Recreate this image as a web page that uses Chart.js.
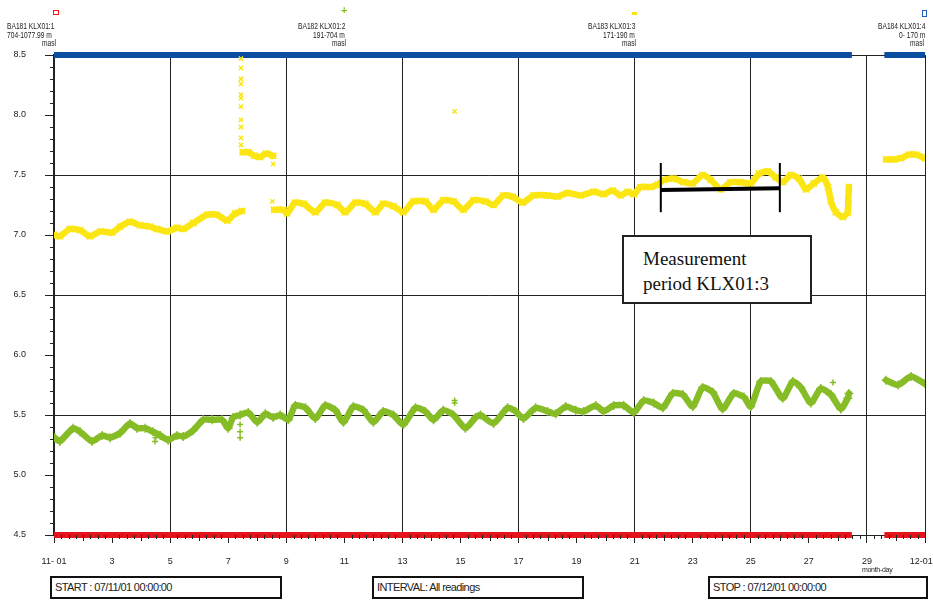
<!DOCTYPE html>
<html>
<head>
<meta charset="utf-8">
<script src="https://cdn.jsdelivr.net/npm/chart.js@4.4.1/dist/chart.umd.min.js"></script>
<style>
  body { margin: 0; background: #fff; }
  #wrap { position: relative; width: 933px; height: 603px; font-family: 'Liberation Sans', Arial, sans-serif; color: #222; overflow: hidden; }
  #chart { position: absolute; left: 0; top: 0; }
  .hd { position: absolute; font-size: 9px; line-height: 9px; white-space: nowrap; transform: scaleX(0.74); transform-origin: left top; color: #1a1a1a; }
  .mk { position: absolute; }
  .box { position: absolute; top: 576px; height: 23px; border: 2px solid #111; box-sizing: border-box; font-size: 11px; line-height: 19px; padding-left: 3px; letter-spacing: -0.6px; white-space: nowrap; background: #fff; }
  .note { position: absolute; left: 622px; top: 235px; width: 190px; height: 69px; border: 2px solid #222; box-sizing: border-box; background: #fff;
          font-family: 'Liberation Serif', 'Times New Roman', serif; font-size: 19px; line-height: 25px; padding: 9px 0 0 19px; color: #111; }
  .md { position: absolute; left: 862px; top: 566px; font-size: 7px; letter-spacing: -0.3px; }
</style>
</head>
<body>
<div id="wrap">
  <canvas id="chart" width="933" height="603"></canvas>

  <!-- series headers -->
  <div class="mk" style="left:53px;top:10px;width:4px;height:3px;border:1.5px solid #ff1010;border-top-color:#ff1010"></div>
  <div class="hd" style="left:7px;top:22px">BA181 KLX01:1</div>
  <div class="hd" style="left:7px;top:31px">704-1077.99 m</div>
  <div class="hd" style="left:42px;top:39px">masl</div>

  <div class="mk" style="left:341px;top:5px;font-size:11px;line-height:11px;color:#86bc25;font-weight:bold">+</div>
  <div class="hd" style="left:298px;top:22px">BA182 KLX01:2</div>
  <div class="hd" style="left:313px;top:31px">191-704 m</div>
  <div class="hd" style="left:332px;top:39px">masl</div>

  <div class="mk" style="left:632px;top:12px;width:5px;height:3px;background:#fbe614"></div>
  <div class="hd" style="left:588px;top:22px">BA183 KLX01:3</div>
  <div class="hd" style="left:603px;top:31px">171-190 m</div>
  <div class="hd" style="left:622px;top:39px">masl</div>

  <div class="mk" style="left:922px;top:10px;width:3px;height:5px;border-style:solid;border-width:1px;border-color:#1f5fb8"></div>
  <div class="hd" style="left:878px;top:22px">BA184 KLX01:4</div>
  <div class="hd" style="left:899px;top:31px">0- 170 m</div>
  <div class="hd" style="left:910px;top:39px">masl</div>

  <div class="note">Measurement<br>period KLX01:3</div>
  <div class="md">month-day</div>

  <div class="box" style="left:50px;width:232px">START : 07/11/01 00:00:00</div>
  <div class="box" style="left:372px;width:212px">INTERVAL: All readings</div>
  <div class="box" style="left:708px;width:220px">STOP : 07/12/01 00:00:00</div>
</div>

<script>
// ── data (x = day of November 2007, 31 = 12-01; y = level, m a.s.l.) ──
const dayTicks = [1, 3, 5, 7, 9, 11, 13, 15, 17, 19, 21, 23, 25, 27, 29, 31];
const dayTickLabels = ['11- 01', '3', '5', '7', '9', '11', '13', '15', '17', '19', '21', '23', '25', '27', '29', '12-01   '];
const gridDays = [1, 5, 9, 13, 17, 21, 25, 29, 31];

// BA181 KLX01:1 and BA184 KLX01:4 sit off the scale (bottom / top edge)
const edgeDays   = [1, 28.48, null, 29.6, 31];
const redLevels  = [4.5, 4.5, null, 4.5, 4.5];
const blueLevels = [8.5, 8.5, null, 8.5, 8.5];

// BA183 KLX01:3 (171-190 m)
const yellowDays = [
  1.0, 1.2, 1.55, 1.9, 2.24, 2.6, 3.0, 3.28, 3.62, 3.97, 4.3, 4.55, 4.9, 5.24, 5.45, 5.8, 6.28, 6.6, 6.97, 7.24, 7.48,
  7.49,
  7.5, 7.7, 7.9, 8.1, 8.3, 8.55,
  8.56,
  8.58, 8.9, 9.03, 9.3, 9.6, 10.0, 10.34, 10.76, 11.03, 11.38, 11.72, 12.07, 12.34, 12.69, 13.03, 13.38, 13.8,
  14.07, 14.41, 14.76, 15.1, 15.45, 15.86, 16.14, 16.48, 16.79, 17.14, 17.52, 18.0, 18.34, 18.69, 19.14, 19.59,
  19.93, 20.24, 20.52, 20.76, 20.97, 21.2, 21.55, 21.8, 22.0, 22.34, 22.69, 23.0, 23.34, 23.62, 23.97, 24.3,
  24.66, 25.0, 25.28, 25.59, 25.86, 26.1, 26.38, 26.66, 26.9, 27.17, 27.48, 27.66, 27.76, 27.93, 28.17, 28.34,
  28.36, 28.38,
  29.0,
  29.66, 29.93, 30.17, 30.45, 30.69, 31.0
];
const yellowLevels = [
  7.0, 6.99, 7.05, 7.04, 6.99, 7.03, 7.02, 7.07, 7.11, 7.08, 7.07, 7.05, 7.03, 7.06, 7.05, 7.1, 7.17, 7.17, 7.12, 7.18, 7.2,
  null,
  7.69, 7.69, 7.66, 7.65, 7.68, 7.66,
  null,
  7.21, 7.21, 7.18, 7.27, 7.26, 7.19, 7.27, 7.25, 7.19, 7.27, 7.26, 7.19, 7.26, 7.24, 7.19, 7.28, 7.28,
  7.21, 7.29, 7.28, 7.21, 7.29, 7.28, 7.25, 7.33, 7.32, 7.27, 7.33, 7.33, 7.32, 7.35, 7.33, 7.36,
  7.34, 7.37, 7.33, 7.36, 7.34, 7.4, 7.4, 7.42, 7.46, 7.47, 7.44, 7.43, 7.5, 7.46, 7.38, 7.44,
  7.44, 7.43, 7.51, 7.53, 7.48, 7.44, 7.5, 7.47, 7.38, 7.43, 7.48, 7.4, 7.28, 7.19, 7.15, 7.19,
  7.3, 7.4,
  null,
  7.63, 7.63, 7.64, 7.67, 7.67, 7.64
];
const yellowSpikeDays   = [7.44, 7.44, 7.44, 7.44, 7.44, 7.44, 7.44, 7.44, 7.44, 7.44, 7.44, 14.8, 8.55, 8.52];
const yellowSpikeLevels = [8.47, 8.39, 8.3, 8.26, 8.17, 8.14, 8.07, 7.96, 7.9, 7.81, 7.75, 8.03, 7.59, 7.28];

// BA182 KLX01:2 (191-704 m)
const greenDays = [
  1.03, 1.2, 1.66, 1.9, 2.31, 2.66, 2.93, 3.28, 3.62, 3.86, 4.14, 4.41, 4.66, 4.93, 5.24, 5.45, 5.79, 6.14, 6.45,
  6.79, 7.0, 7.17, 7.41, 7.69, 8.0, 8.28, 8.55, 8.79, 9.07, 9.31, 9.66, 10.0, 10.34, 10.69, 10.97, 11.31, 11.66,
  12.0, 12.34, 12.69, 13.03, 13.45, 13.79, 14.07, 14.41, 14.76, 15.17, 15.52, 15.69, 16.14, 16.62, 16.9, 17.17,
  17.59, 18.0, 18.28, 18.62, 18.97, 19.24, 19.66, 19.93, 20.28, 20.62, 20.97, 21.31, 21.66, 21.97, 22.31, 22.66,
  23.0, 23.34, 23.69, 24.03, 24.41, 24.76, 25.0, 25.34, 25.69, 26.1, 26.45, 26.72, 27.07, 27.41, 27.76, 28.1,
  28.34, 28.38,
  29.0,
  29.66, 30.07, 30.52, 31.0
];
const greenLevels = [
  5.31, 5.28, 5.39, 5.36, 5.28, 5.33, 5.31, 5.35, 5.43, 5.39, 5.39, 5.36, 5.33, 5.29, 5.33, 5.32, 5.37, 5.46, 5.46,
  5.46, 5.39, 5.48, 5.5, 5.52, 5.44, 5.51, 5.48, 5.5, 5.46, 5.58, 5.56, 5.47, 5.58, 5.54, 5.44, 5.57, 5.54,
  5.44, 5.53, 5.5, 5.42, 5.56, 5.53, 5.46, 5.54, 5.5, 5.39, 5.48, 5.5, 5.43, 5.56, 5.53, 5.47,
  5.56, 5.53, 5.51, 5.57, 5.54, 5.53, 5.58, 5.53, 5.58, 5.58, 5.52, 5.62, 5.6, 5.56, 5.68, 5.67,
  5.57, 5.73, 5.69, 5.55, 5.68, 5.65, 5.57, 5.78, 5.78, 5.64, 5.78, 5.73, 5.6, 5.72, 5.67, 5.55,
  5.64, 5.68,
  null,
  5.79, 5.75, 5.82, 5.76
];
const greenOddDays   = [4.48, 4.5, 7.41, 7.41, 7.41, 14.8, 14.8, 27.83];
const greenOddLevels = [5.28, 5.31, 5.42, 5.36, 5.31, 5.62, 5.6, 5.77];

// measurement period KLX01:3
const periodDays   = [21.9, 26.0];
const periodLevels = [7.375, 7.39];
const whiskerLevels = [7.19, 7.6];

const YELLOW = '#fbe614';
const GREEN  = '#86bc25';
const BLUE   = '#0b4ea2';
const RED    = '#e3141b';
const INK    = '#222222';

function pts(xs, ys) {
  return xs.map(function(x, i) { return { x: x, y: ys[i] }; });
}

const minorTicks = {
  id: 'minorTicks',
  afterDraw: function(chart) {
    const ctx = chart.ctx, xs = chart.scales.x, ys = chart.scales.y;
    ctx.save();
    ctx.strokeStyle = INK;
    ctx.lineWidth = 1;
    ctx.beginPath();
    for (let t = 45; t <= 85; t++) {
      if (t % 5 === 0) continue;
      const py = Math.round(ys.getPixelForValue(t / 10)) + 0.5;
      ctx.moveTo(xs.left - 4, py);
      ctx.lineTo(xs.left, py);
    }
    for (let q = 4; q <= 124; q++) {
      if (q % 8 === 4) continue;
      const px = Math.round(xs.getPixelForValue(q / 4)) + 0.5;
      ctx.moveTo(px, ys.bottom);
      ctx.lineTo(px, ys.bottom + (q % 4 === 0 ? 6 : 4));
    }
    ctx.stroke();
    ctx.restore();
  }
};

function markDataset(data, color, style, r) {
  return {
    data: data, showLine: false, pointStyle: style, pointRadius: r, pointBorderWidth: 1.5,
    pointBorderColor: color, pointBackgroundColor: color, borderColor: color
  };
}

function levelDataset(data, color, style) {
  return {
    data: data, showLine: true, spanGaps: false, borderColor: color, borderWidth: 6.5, tension: 0.2,
    borderCapStyle: 'round', borderJoinStyle: 'round',
    pointStyle: style, pointRadius: 4.5, pointBorderWidth: 1.5,
    pointBorderColor: color, pointBackgroundColor: color
  };
}

function edgeDataset(data, color) {
  return { data: data, showLine: true, spanGaps: false, borderColor: color, borderWidth: 6, pointRadius: 0, clip: false };
}

new Chart(document.getElementById('chart'), {
  type: 'scatter',
  data: {
    datasets: [
      { data: pts(periodDays, periodLevels), showLine: true, borderColor: '#000', borderWidth: 4, pointRadius: 0 },
      { data: pts([periodDays[0], periodDays[0]], whiskerLevels), showLine: true, borderColor: '#000', borderWidth: 2, pointRadius: 0 },
      { data: pts([periodDays[1], periodDays[1]], whiskerLevels), showLine: true, borderColor: '#000', borderWidth: 2, pointRadius: 0 },
      markDataset(pts(yellowSpikeDays, yellowSpikeLevels), YELLOW, 'crossRot', 3),
      levelDataset(pts(yellowDays, yellowLevels), YELLOW, 'crossRot'),
      markDataset(pts(greenOddDays, greenOddLevels), GREEN, 'cross', 3),
      levelDataset(pts(greenDays, greenLevels), GREEN, 'cross'),
      edgeDataset(pts(edgeDays, blueLevels), BLUE),
      edgeDataset(pts(edgeDays, redLevels), RED)
    ]
  },
  options: {
    responsive: false,
    animation: false,
    layout: { padding: { top: 55, right: 8, bottom: 33, left: 0 } },
    plugins: { legend: { display: false }, tooltip: { enabled: false } },
    scales: {
      x: {
        type: 'linear',
        min: 1,
        max: 31,
        afterBuildTicks: function(scale) {
          scale.ticks = dayTicks.map(function(v) { return { value: v }; });
        },
        afterFit: function(scale) {
          scale.height = 35;
          scale.paddingLeft = 0;
          scale.paddingRight = 0;
        },
        border: { display: true, color: INK, width: 1 },
        grid: {
          color: function(c) { return c.tick && gridDays.indexOf(c.tick.value) >= 0 ? INK : 'rgba(0,0,0,0)'; },
          tickColor: INK,
          tickLength: 8,
          lineWidth: 1
        },
        ticks: {
          autoSkip: false,
          maxRotation: 0,
          padding: 13,
          color: INK,
          font: { family: "'Liberation Sans', Arial, sans-serif", size: 9 },
          callback: function(v) {
            const i = dayTicks.indexOf(v);
            return i >= 0 ? dayTickLabels[i] : '';
          }
        }
      },
      y: {
        min: 4.5,
        max: 8.5,
        afterFit: function(scale) { scale.width = 54; },
        border: { display: true, color: INK, width: 1.5 },
        grid: {
          color: function(c) {
            const v = c.tick ? c.tick.value : 0;
            return Math.abs((v * 2) % 2 - 1) < 1e-6 ? INK : 'rgba(0,0,0,0)';
          },
          tickColor: INK,
          tickLength: 9,
          lineWidth: 1
        },
        ticks: {
          stepSize: 0.5,
          padding: 19,
          color: INK,
          font: { family: "'Liberation Sans', Arial, sans-serif", size: 9 },
          callback: function(v) { return Number(v).toFixed(1); }
        }
      }
    }
  },
  plugins: [minorTicks]
});
</script>
</body>
</html>
